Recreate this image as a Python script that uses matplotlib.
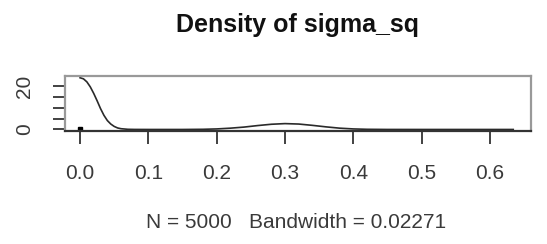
import matplotlib
matplotlib.use("Agg")
import matplotlib.pyplot as plt

# density curve
dens_x = [0.0, 0.005, 0.01, 0.015, 0.02, 0.025, 0.03, 0.035, 0.04, 0.045,
          0.05, 0.055, 0.06, 0.07, 0.08, 0.10, 0.15, 0.18, 0.20, 0.22,
          0.24, 0.26, 0.28, 0.30, 0.32, 0.34, 0.36, 0.38, 0.40, 0.42,
          0.45, 0.50, 0.55, 0.60, 0.634]
dens_y = [23.8, 23.3, 21.9, 19.6, 16.6, 13.2, 9.6, 6.5, 4.1, 2.5,
          1.4, 0.7, 0.35, 0.08, 0.02, 0.0, 0.0, 0.08, 0.25, 0.6,
          1.1, 1.8, 2.4, 2.7, 2.5, 1.9, 1.2, 0.6, 0.25, 0.08,
          0.01, 0.0, 0.0, 0.0, 0.0]
point_x = [0.0]
point_y = [0.0]

x_ticks = [0.0, 0.1, 0.2, 0.3, 0.4, 0.5, 0.6]
x_labels = ["0.0", "0.1", "0.2", "0.3", "0.4", "0.5", "0.6"]
y_ticks = [0, 5, 10, 15, 20]
y_labels = ["0", "", "", "", "20"]

title = "Density of sigma_sq"
subtitle = "N = 5000   Bandwidth = 0.02271"

plt.rcParams['font.family'] = ['Liberation Sans', 'DejaVu Sans']

fig = plt.figure(figsize=(5.47, 2.44), dpi=100)
ax = fig.add_axes([65 / 547, 1 - 131 / 244, (531 - 65) / 547, (131 - 76) / 244])

ax.plot(dens_x, dens_y, color="#2a2a2a", lw=1.2)
ax.plot(point_x, point_y, "s", color="black", ms=3)

ax.set_xlim(-0.022, 0.66)
ax.set_ylim(-0.7, 24.6)

for s in ax.spines.values():
    s.set_color("#999999")
    s.set_linewidth(1.6)
ax.spines['bottom'].set_color("#333333")

ax.set_xticks(x_ticks)
ax.set_xticklabels(x_labels, fontsize=15, color="#3a3a3a")
ax.set_yticks(y_ticks)
ax.set_yticklabels(y_labels, fontsize=15, color="#3a3a3a", rotation=90, va="center")
ax.tick_params(axis="both", length=9, width=1.3, color="#333333")
ax.tick_params(axis="x", pad=15)
ax.tick_params(axis="y", pad=13)

fig.text(297 / 547, 1 - 25 / 244, title, ha="center", va="center",
         fontsize=18, fontweight="bold", color="#111111")
fig.text(296 / 547, 1 - 222 / 244, subtitle, ha="center", va="center",
         fontsize=15, color="#3a3a3a")

fig.savefig("out.png", dpi=100)
